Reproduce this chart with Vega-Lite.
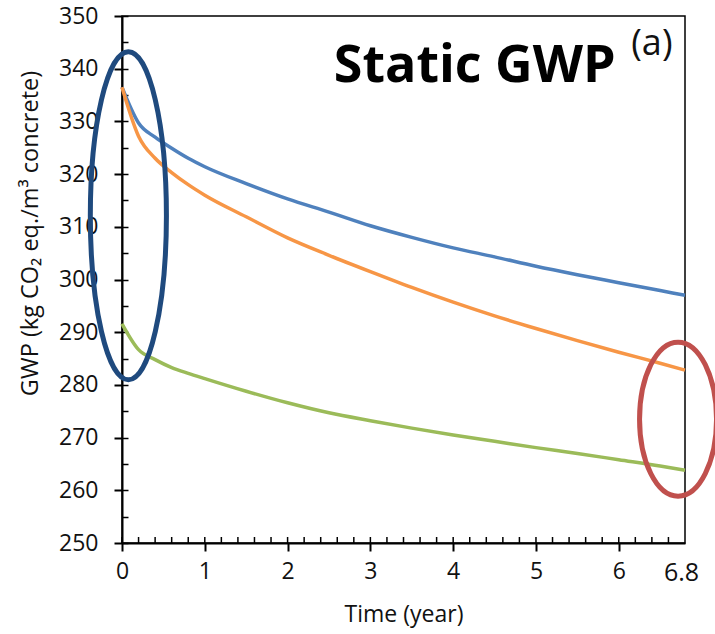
{
  "$schema": "https://vega.github.io/schema/vega-lite/v6.json",
  "autosize": {"type": "none"},
  "padding": {"left": 122, "top": 16, "right": 30, "bottom": 91},
  "width": 563,
  "height": 527,
  "background": "white",
  "config": {
    "view": {"stroke": "black", "strokeWidth": 1.5},
    "font": "Open Sans"
  },
  "datasets": {
    "gwp": [
      {"series": "Case 1", "t": 0, "v": 336.5},
      {"series": "Case 1", "t": 0.2, "v": 329.7},
      {"series": "Case 1", "t": 0.4, "v": 327.0},
      {"series": "Case 1", "t": 0.6, "v": 324.9},
      {"series": "Case 1", "t": 0.8, "v": 323.0},
      {"series": "Case 1", "t": 1, "v": 321.4},
      {"series": "Case 1", "t": 1.5, "v": 318.2},
      {"series": "Case 1", "t": 2, "v": 315.3},
      {"series": "Case 1", "t": 2.5, "v": 312.8},
      {"series": "Case 1", "t": 3, "v": 310.2},
      {"series": "Case 1", "t": 3.5, "v": 308.0},
      {"series": "Case 1", "t": 4, "v": 306.0},
      {"series": "Case 1", "t": 4.5, "v": 304.3},
      {"series": "Case 1", "t": 5, "v": 302.5},
      {"series": "Case 1", "t": 5.5, "v": 300.9},
      {"series": "Case 1", "t": 6, "v": 299.4},
      {"series": "Case 1", "t": 6.5, "v": 297.9},
      {"series": "Case 1", "t": 6.8, "v": 297.0},
      {"series": "Case 2", "t": 0, "v": 336.5},
      {"series": "Case 2", "t": 0.2, "v": 327.2},
      {"series": "Case 2", "t": 0.4, "v": 323.0},
      {"series": "Case 2", "t": 0.6, "v": 320.3},
      {"series": "Case 2", "t": 0.8, "v": 318.0},
      {"series": "Case 2", "t": 1, "v": 316.0},
      {"series": "Case 2", "t": 1.5, "v": 311.9},
      {"series": "Case 2", "t": 2, "v": 307.9},
      {"series": "Case 2", "t": 2.5, "v": 304.6},
      {"series": "Case 2", "t": 3, "v": 301.5},
      {"series": "Case 2", "t": 3.5, "v": 298.5},
      {"series": "Case 2", "t": 4, "v": 295.7},
      {"series": "Case 2", "t": 4.5, "v": 293.1},
      {"series": "Case 2", "t": 5, "v": 290.7},
      {"series": "Case 2", "t": 5.5, "v": 288.4},
      {"series": "Case 2", "t": 6, "v": 286.2},
      {"series": "Case 2", "t": 6.5, "v": 284.1},
      {"series": "Case 2", "t": 6.8, "v": 282.8},
      {"series": "Case 3", "t": 0, "v": 291.6},
      {"series": "Case 3", "t": 0.2, "v": 286.7},
      {"series": "Case 3", "t": 0.4, "v": 284.8},
      {"series": "Case 3", "t": 0.6, "v": 283.3},
      {"series": "Case 3", "t": 0.8, "v": 282.2},
      {"series": "Case 3", "t": 1, "v": 281.2},
      {"series": "Case 3", "t": 1.5, "v": 278.8},
      {"series": "Case 3", "t": 2, "v": 276.6},
      {"series": "Case 3", "t": 2.5, "v": 274.7},
      {"series": "Case 3", "t": 3, "v": 273.2},
      {"series": "Case 3", "t": 3.5, "v": 271.8},
      {"series": "Case 3", "t": 4, "v": 270.5},
      {"series": "Case 3", "t": 4.5, "v": 269.3},
      {"series": "Case 3", "t": 5, "v": 268.1},
      {"series": "Case 3", "t": 5.5, "v": 267.0},
      {"series": "Case 3", "t": 6, "v": 265.8},
      {"series": "Case 3", "t": 6.5, "v": 264.6},
      {"series": "Case 3", "t": 6.8, "v": 263.8}
    ],
    "timeTicks": [
      {"t": 0}, {"t": 0.2}, {"t": 0.4}, {"t": 0.6}, {"t": 0.8},
      {"t": 1}, {"t": 1.2}, {"t": 1.4}, {"t": 1.6}, {"t": 1.8},
      {"t": 2}, {"t": 2.2}, {"t": 2.4}, {"t": 2.6}, {"t": 2.8},
      {"t": 3}, {"t": 3.2}, {"t": 3.4}, {"t": 3.6}, {"t": 3.8},
      {"t": 4}, {"t": 4.2}, {"t": 4.4}, {"t": 4.6}, {"t": 4.8},
      {"t": 5}, {"t": 5.2}, {"t": 5.4}, {"t": 5.6}, {"t": 5.8},
      {"t": 6}, {"t": 6.2}, {"t": 6.4}, {"t": 6.6}
    ]
  },
  "resolve": {"axis": {"x": "independent", "y": "independent"}},
  "layer": [
    {
      "data": {"name": "gwp"},
      "mark": {"type": "line", "strokeWidth": 3.5, "interpolate": "monotone"},
      "encoding": {
        "x": {
          "field": "t", "type": "quantitative",
          "scale": {"domain": [0, 6.8], "nice": false, "zero": false},
          "axis": {
            "orient": "bottom",
            "values": [0, 1, 2, 3, 4, 5, 6, 6.8],
            "labelExpr": "abs(datum.value - 6.8) < 0.01 ? '6.8' : format(datum.value, 'd')",
            "grid": false,
            "domainColor": "black", "domainWidth": 2,
            "tickSize": 8,
            "tickWidth": 2,
            "tickColor": {"condition": {"test": "abs(datum.value - 6.8) < 0.01", "value": "transparent"}, "value": "black"},
            "labelFont": "Open Sans",
            "labelFontSize": {"condition": {"test": "abs(datum.value - 6.8) < 0.01", "value": 25}, "value": 23},
            "labelOffset": {"condition": {"test": "abs(datum.value - 6.8) < 0.01", "value": -4}, "value": 0},
            "labelColor": "#111111",
            "labelPadding": 9,
            "labelFlush": false,
            "labelOverlap": false,
            "title": "Time (year)",
            "titleFont": "Open Sans", "titleFontSize": 23, "titleFontWeight": "normal",
            "titleColor": "#111111",
            "titleY": 78, "titleBaseline": "alphabetic"
          }
        },
        "y": {
          "field": "v", "type": "quantitative",
          "scale": {"domain": [250, 350], "nice": false, "zero": false},
          "axis": {
            "orient": "left",
            "values": [250, 255, 260, 265, 270, 275, 280, 285, 290, 295, 300, 305, 310, 315, 320, 325, 330, 335, 340, 345, 350],
            "labelExpr": "datum.value % 10 == 0 ? format(datum.value, 'd') : ''",
            "grid": true,
            "gridColor": "black", "gridWidth": 1.5, "gridOpacity": 1,
            "gridDash": [6, 2000],
            "domainColor": "black", "domainWidth": 2,
            "tickSize": 8, "tickWidth": 2,
            "tickColor": {"condition": {"test": "datum.value % 10 == 0", "value": "black"}, "value": "transparent"},
            "labelFont": "Open Sans", "labelFontSize": 23, "labelColor": "#111111",
            "labelPadding": 16,
            "labelOverlap": false,
            "title": "GWP (kg CO₂ eq./m³ concrete)",
            "titleFont": "Open Sans", "titleFontSize": 23.5, "titleFontWeight": "normal",
            "titleColor": "#111111",
            "titleX": -85, "titleY": 217, "titleAlign": "center", "titleBaseline": "alphabetic", "titleAngle": -90
          }
        },
        "color": {
          "field": "series", "type": "nominal",
          "scale": {"domain": ["Case 1", "Case 2", "Case 3"], "range": ["#4F81BD", "#F79646", "#9BBB59"]},
          "legend": null
        }
      }
    },
    {
      "data": {"name": "timeTicks"},
      "mark": {"type": "tick", "orient": "vertical", "size": 6, "thickness": 1.5, "color": "black", "opacity": 1, "yOffset": -3},
      "encoding": {
        "x": {"field": "t", "type": "quantitative", "scale": {"domain": [0, 6.8], "nice": false, "zero": false}, "axis": null},
        "y": {"datum": 250, "type": "quantitative", "scale": {"domain": [250, 350], "nice": false, "zero": false}, "axis": null}
      }
    },
    {
      "data": {"values": [{}]},
      "mark": {
        "type": "point", "filled": false, "opacity": 1,
        "shape": "M0,-1 C0.128,-1 0.232,-0.552 0.232,0 C0.232,0.552 0.128,1 0,1 C-0.128,1 -0.232,0.552 -0.232,0 C-0.232,-0.552 -0.128,-1 0,-1 Z",
        "size": 107584, "stroke": "#1F4A7E", "strokeWidth": 5
      },
      "encoding": {
        "x": {"datum": 0.077, "type": "quantitative", "scale": {"domain": [0, 6.8], "nice": false, "zero": false}, "axis": null},
        "y": {"datum": 312.1, "type": "quantitative", "scale": {"domain": [250, 350], "nice": false, "zero": false}, "axis": null}
      }
    },
    {
      "data": {"values": [{}]},
      "mark": {
        "type": "point", "filled": false, "opacity": 1,
        "shape": "M0,-1 C0.276,-1 0.5,-0.552 0.5,0 C0.5,0.552 0.276,1 0,1 C-0.276,1 -0.5,0.552 -0.5,0 C-0.5,-0.552 -0.276,-1 0,-1 Z",
        "size": 23716, "stroke": "#C0504D", "strokeWidth": 5
      },
      "encoding": {
        "x": {"datum": 6.716, "type": "quantitative", "scale": {"domain": [0, 6.8], "nice": false, "zero": false}, "axis": null},
        "y": {"datum": 273.5, "type": "quantitative", "scale": {"domain": [250, 350], "nice": false, "zero": false}, "axis": null}
      }
    },
    {
      "data": {"values": [{}]},
      "mark": {"type": "text", "text": "Static GWP", "font": "Open Sans", "fontWeight": "bold", "fontSize": 52, "align": "center", "baseline": "alphabetic", "color": "black"},
      "encoding": {
        "x": {"datum": 4.26, "type": "quantitative", "scale": {"domain": [0, 6.8], "nice": false, "zero": false}, "axis": null},
        "y": {"datum": 337.4, "type": "quantitative", "scale": {"domain": [250, 350], "nice": false, "zero": false}, "axis": null}
      }
    },
    {
      "data": {"values": [{}]},
      "mark": {"type": "text", "text": "(a)", "font": "Open Sans", "fontSize": 36, "align": "center", "baseline": "alphabetic", "color": "#111111"},
      "encoding": {
        "x": {"datum": 6.4, "type": "quantitative", "scale": {"domain": [0, 6.8], "nice": false, "zero": false}, "axis": null},
        "y": {"datum": 342.6, "type": "quantitative", "scale": {"domain": [250, 350], "nice": false, "zero": false}, "axis": null}
      }
    }
  ]
}
